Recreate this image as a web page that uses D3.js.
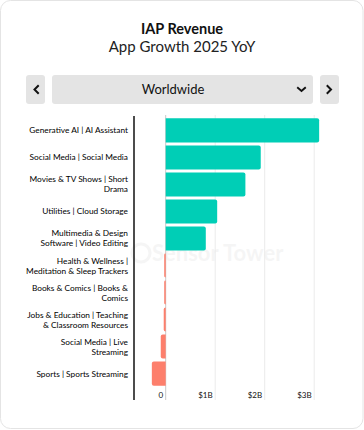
<!DOCTYPE html>
<html>
<head>
<meta charset="utf-8">
<script src="https://cdn.jsdelivr.net/npm/d3@7"></script>
<style>
  html, body { margin: 0; padding: 0; background: #fff; }
  svg { display: block; font-family: "Source Sans Pro", Lato, "Open Sans", sans-serif; }
</style>
</head>
<body>
<svg id="viz"></svg>
<script>
var width = 364,
    height = 430;

// Categories (line breaks as in the original labels)
var categories = [
  "Generative AI | AI Assistant",
  "Social Media | Social Media",
  "Movies & TV Shows | Short\nDrama",
  "Utilities | Cloud Storage",
  "Multimedia & Design\nSoftware | Video Editing",
  "Health & Wellness |\nMeditation & Sleep Trackers",
  "Books & Comics | Books &\nComics",
  "Jobs & Education | Teaching\n& Classroom Resources",
  "Social Media | Live\nStreaming",
  "Sports | Sports Streaming"
];
// IAP revenue growth, $ billions
var growth = [3.10, 1.92, 1.61, 1.04, 0.81, -0.03, -0.03, -0.04, -0.10, -0.28];
var tickValues = [0, 1, 2, 3];
var tickLabels = ["0", "$1B", "$2B", "$3B"];

var svg = d3.select("#viz").attr("width", width).attr("height", height);

// card
svg.append("rect")
    .attr("x", 0.5).attr("y", 0.5)
    .attr("width", width - 1.5).attr("height", height - 2)
    .attr("rx", 10)
    .attr("fill", "#fff")
    .attr("stroke", "#e4e4e4");

// titles
svg.append("text")
    .attr("x", 182).attr("y", 34)
    .attr("text-anchor", "middle")
    .style("font-size", "14.5px").style("font-weight", "bold").style("fill", "#111")
    .text("IAP Revenue");
svg.append("text")
    .attr("x", 182).attr("y", 52)
    .attr("text-anchor", "middle")
    .style("font-size", "15px").style("fill", "#222")
    .text("App Growth 2025 YoY");

// selector buttons
var btnFill = "#e4e4e4";
svg.append("rect").attr("x", 26).attr("y", 75).attr("width", 19).attr("height", 29).attr("rx", 3).attr("fill", btnFill);
svg.append("rect").attr("x", 52).attr("y", 75).attr("width", 261).attr("height", 29).attr("rx", 3).attr("fill", btnFill);
svg.append("rect").attr("x", 320).attr("y", 75).attr("width", 19).attr("height", 29).attr("rx", 3).attr("fill", btnFill);

var chev = { fill: "none", stroke: "#111", "stroke-width": 2, "stroke-linecap": "square" };
function chevron(d) {
  var p = svg.append("path").attr("d", d);
  Object.keys(chev).forEach(function(k) { p.attr(k, chev[k]); });
}
chevron("M38,86 L34.5,89.5 L38,93");
chevron("M327.5,86 L331,89.5 L327.5,93");
chevron("M298,88 L301.5,91 L305,88");

svg.append("text")
    .attr("x", 173).attr("y", 94)
    .attr("text-anchor", "middle")
    .style("font-size", "13px").style("fill", "#111")
    .text("Worldwide");

// chart
var margin = { top: 118, bottom: 386 };
var x = d3.scaleLinear().domain([0, 1]).range([165.7, 215.2]);
var y = d3.scaleBand().domain(categories).range([margin.top - 1, margin.bottom + 1]).paddingInner(0.11).paddingOuter(0.05);

// watermark
var wm = svg.append("g").attr("opacity", 0.035);
wm.append("circle").attr("cx", 141).attr("cy", 253).attr("r", 9).attr("fill", "none").attr("stroke", "#000").attr("stroke-width", 3);
wm.append("text").attr("x", 152).attr("y", 261)
    .style("font-size", "22px").style("font-weight", "bold").style("fill", "#000")
    .text("Sensor Tower");

// gridlines
svg.append("g")
    .selectAll("line")
    .data(tickValues)
    .enter().append("line")
    .attr("x1", function(d) { return x(d); })
    .attr("x2", function(d) { return x(d); })
    .attr("y1", 115).attr("y2", 400)
    .attr("stroke", function(d) { return d === 0 ? "#c8c8c8" : "#ebebeb"; })
    .attr("stroke-width", 1);

// bars with rounded outer end
function barPath(v, yTop, h) {
  var x0 = x(0), x1 = x(v), r = Math.min(2, Math.abs(x1 - x0));
  var s = v >= 0 ? 1 : -1;
  var p = d3.path();
  p.moveTo(x0, yTop);
  p.lineTo(x1 - s * r, yTop);
  p.quadraticCurveTo(x1, yTop, x1, yTop + r);
  p.lineTo(x1, yTop + h - r);
  p.quadraticCurveTo(x1, yTop + h, x1 - s * r, yTop + h);
  p.lineTo(x0, yTop + h);
  p.closePath();
  return p.toString();
}

svg.append("g")
    .selectAll("path")
    .data(growth)
    .enter().append("path")
    .attr("d", function(d, i) { return barPath(d, y(categories[i]), y.bandwidth()); })
    .attr("fill", function(d) { return d >= 0 ? "#00ceb6" : "#fd7f6c"; });

// left axis line
svg.append("line")
    .attr("x1", 134).attr("x2", 134)
    .attr("y1", 116).attr("y2", 400)
    .attr("stroke", "#111").attr("stroke-width", 1.5);

// category labels
var lbl = svg.append("g")
    .selectAll("text")
    .data(categories)
    .enter().append("text")
    .attr("text-anchor", "end")
    .style("font-size", "8.3px").style("fill", "#000")
    .attr("y", function(d) { return y(d) + y.bandwidth() / 2; });

lbl.each(function(d) {
  var lines = d.split("\n");
  var t = d3.select(this);
  var off = -(lines.length - 1) * 5 + 3;
  lines.forEach(function(line, k) {
    t.append("tspan")
      .attr("x", 128)
      .attr("dy", k === 0 ? off : 10)
      .text(line);
  });
});

// x tick labels
svg.append("g")
    .selectAll("text")
    .data(tickValues)
    .enter().append("text")
    .attr("x", function(d) { return x(d) - 2.5; })
    .attr("y", 398)
    .attr("text-anchor", "end")
    .style("font-size", "8px").style("fill", "#111")
    .text(function(d, i) { return tickLabels[i]; });
</script>
</body>
</html>
